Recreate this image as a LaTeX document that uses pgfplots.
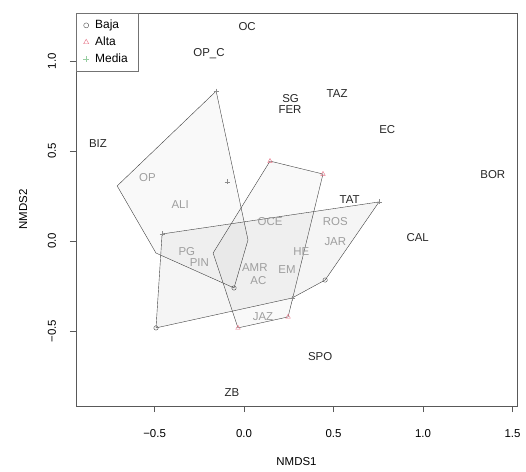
\documentclass[border=0pt]{standalone}
\usepackage{fontspec}
\setmainfont{Liberation Sans}
\usepackage{pgfplots}
\pgfplotsset{compat=1.18}
\definecolor{mediacol}{RGB}{150,205,160}
\definecolor{altacol}{RGB}{230,110,130}
\begin{document}
\fontsize{11.5}{13.5}\selectfont
\begin{tikzpicture}
\begin{axis}[
  scale only axis, width=441bp, height=393bp,
  xmin=-0.939, xmax=1.525, ymin=-0.917, ymax=1.267,
  axis line style={black!65},
  /pgf/number format/assume math mode=true,
  xtick={-0.5,0,0.5,1,1.5}, xticklabels={−0.5,0.0,0.5,1.0,1.5},
  ytick={-0.5,0,0.5,1}, yticklabels={−0.5,0.0,0.5,1.0},
  xtick pos=bottom, ytick pos=left, tick align=outside, major tick length=6bp,
  tick style={black!65},
  xticklabel style={anchor=center, yshift=-22bp},
  yticklabel style={rotate=90, anchor=south, yshift=10bp},
  xlabel={NMDS1}, ylabel={NMDS2},
  xlabel style={at={(axis description cs:0.5,-0.1425)}, anchor=center},
  ylabel style={at={(axis description cs:-0.12,0.5)}, anchor=center, rotate=0},
  legend style={at={(0,1)}, anchor=north west, draw=black!55, inner xsep=7bp, inner ysep=5bp,
    font=\fontsize{12}{13}\selectfont, row sep=2.5bp, column sep=3bp,
    nodes={inner xsep=3bp}},
  legend cell align=left,
  every node near coord/.style={anchor=center},
]
\addlegendimage{only marks, mark=o, black!70, mark size=2.5bp}
\addlegendentry{Baja}
\addlegendimage{only marks, mark=triangle, altacol, mark size=3bp}
\addlegendentry{Alta}
\addlegendimage{only marks, mark=+, mediacol, mark size=3bp}
\addlegendentry{Media}

% hulls
\addplot[forget plot, draw=black!75, fill=black, fill opacity=0.025] coordinates {
 (-0.156,0.833) (0.022,0.006) (-0.056,-0.261) (-0.492,-0.067) (-0.709,0.306)} -- cycle;
\addplot[forget plot, draw=black!75, fill=black, fill opacity=0.04] coordinates {
 (-0.458,0.039) (0.754,0.217) (0.453,-0.217) (0.268,-0.317) (-0.492,-0.483)} -- cycle;
\addplot[forget plot, draw=black!75, fill=black, fill opacity=0.025] coordinates {
 (0.145,0.444) (0.441,0.372) (0.246,-0.422) (-0.034,-0.483) (-0.173,-0.067)} -- cycle;

% points
\addplot[forget plot, only marks, mark=o, black!70, mark size=2.2bp] coordinates {
 (-0.492,-0.483) (0.453,-0.217) (-0.056,-0.261)};
\addplot[forget plot, only marks, mark=triangle, altacol, mark size=2.6bp] coordinates {
 (0.145,0.444) (0.441,0.372) (0.246,-0.422) (-0.034,-0.483)};
\addplot[forget plot, only marks, mark=+, black!45, mark size=2.5bp] coordinates {
 (-0.458,0.039) (0.754,0.217) (0.268,-0.317) (-0.156,0.833) (-0.095,0.328)};

% black labels
\addplot[forget plot, only marks, mark=none, nodes near coords, point meta=explicit symbolic,
  every node near coord/.append style={text=black!85}] coordinates {
 (0.017,1.19) [OC]
 (-0.196,1.04) [OP\_C]
 (0.26,0.792) [SG]
 (0.257,0.728) [FER]
 (0.52,0.82) [TAZ]
 (0.80,0.62) [EC]
 (-0.816,0.544) [BIZ]
 (1.39,0.367) [BOR]
 (0.59,0.228) [TAT]
 (0.97,0.017) [CAL]
 (0.425,-0.64) [SPO]
 (-0.067,-0.84) [ZB]
};
% grey labels
\addplot[forget plot, only marks, mark=none, nodes near coords, point meta=explicit symbolic,
  every node near coord/.append style={text=black!38}] coordinates {
 (-0.54,0.355) [OP]
 (-0.357,0.2) [ALI]
 (0.145,0.11) [OCE]
 (0.51,0.11) [ROS]
 (0.51,-0.005) [JAR]
 (-0.32,-0.06) [PG]
 (-0.25,-0.12) [PIN]
 (0.32,-0.06) [HE]
 (0.06,-0.15) [AMR]
 (0.24,-0.16) [EM]
 (0.08,-0.22) [AC]
 (0.106,-0.42) [JAZ]
};
\end{axis}
\pgfresetboundingbox
\path ([shift={(-76bp,-66bp)}]current axis.south west) rectangle ([shift={(9bp,13bp)}]current axis.north east);
\end{tikzpicture}
\end{document}
